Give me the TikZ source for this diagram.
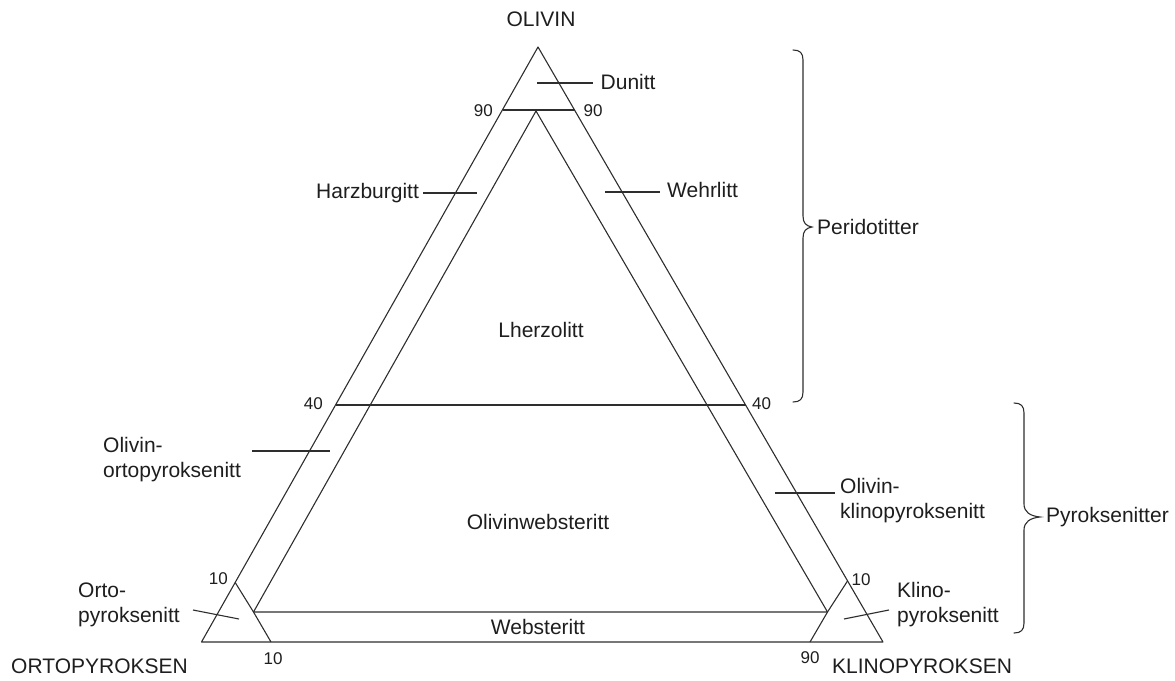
\documentclass[tikz,border=0pt]{standalone}
\usepackage{fontspec}
\setmainfont{Liberation Sans}
\definecolor{ink}{HTML}{1E1E1E}
\definecolor{rule}{HTML}{2E2E2E}
\begin{document}
\begin{tikzpicture}[x=1pt,y=-1pt,
  edge/.style={draw=rule, line width=1.1pt, line join=round},
  lead/.style={draw=rule, line width=1.1pt},
  brace/.style={draw=rule, line width=1.1pt, line cap=round},
  lbl/.style={font=\fontsize{21}{25}\selectfont, text=ink, inner sep=0pt, align=left},
  num/.style={font=\fontsize{17}{20}\selectfont, text=ink, inner sep=0pt},
]
\useasboundingbox (0,0) rectangle (1175,680);

% outer triangle
\coordinate (O) at (538,47);
\coordinate (A) at (201.5,642);
\coordinate (C) at (883,642);
% inner triangle
\coordinate (I) at (536,111);
\coordinate (IA) at (253.5,612);
\coordinate (IC) at (827.5,612);
% division lines on the outer sides
\coordinate (L90) at (502.5,110);
\coordinate (R90) at (574.5,110);
\coordinate (L40) at (335.5,405);
\coordinate (R40) at (745.5,405);
\coordinate (L10) at (235.2,582.5);
\coordinate (B10) at (271,642);
\coordinate (R10) at (847.5,581);
\coordinate (B90) at (810,642);

\draw[edge] (O) -- (A) -- (C) -- cycle;
\draw[edge] (IA) -- (I) -- (IC) -- cycle;
\draw[edge] (L90) -- (R90);
\draw[edge] (L40) -- (R40);
\draw[edge] (L10) -- (IA) -- (B10);
\draw[edge] (R10) -- (IC) -- (B90);

% corner names
\node[lbl, anchor=base] (olv) at (541,26) {OLIVIN};
\node[lbl, anchor=base west] (opx) at (11,673) {ORTOPYROKSEN};
\node[lbl, anchor=base west] (cpx) at (832,673) {KLINOPYROKSEN};

% scale numbers
\node[num, anchor=base east] (n90l) at (493,116) {90};
\node[num, anchor=base west] (n90r) at (583.5,116) {90};
\node[num, anchor=base east] (n40l) at (323,409) {40};
\node[num, anchor=base west] (n40r) at (752,409) {40};
\node[num, anchor=base east] (n10l) at (228,584) {10};
\node[num, anchor=base] (n10b) at (273,664) {10};
\node[num, anchor=base west] (n10r) at (851.5,585) {10};
\node[num, anchor=base] (n90b) at (810,663) {90};

% field names inside
\node[lbl, anchor=base] (lhz) at (541,337) {Lherzolitt};
\node[lbl, anchor=base] (owb) at (538,529) {Olivinwebsteritt};
\node[lbl, anchor=base] (wbs) at (538,634) {Websteritt};

% field names outside with leaders (two-line labels sit on their last baseline)
\node[lbl, anchor=base west] (dun) at (600.5,89) {Dunitt};
\coordinate (dunA) at (537,83);
\coordinate (dunB) at (593,83);
\draw[lead] (dunA) -- (dunB);

\node[lbl, anchor=base west] (hzb) at (316,198) {Harzburgitt};
\coordinate (hzbA) at (423,193);
\coordinate (hzbB) at (477,193);
\draw[lead] (hzbA) -- (hzbB);

\node[lbl, anchor=base west] (whr) at (667,197) {Wehrlitt};
\coordinate (whrA) at (605,192);
\coordinate (whrB) at (660,192);
\draw[lead] (whrA) -- (whrB);

\node[lbl, anchor=base west] (oopx) at (103,477) {Olivin-\\ortopyroksenitt};
\coordinate (oopxA) at (252,451);
\coordinate (oopxB) at (330,451);
\draw[lead] (oopxA) -- (oopxB);

\node[lbl, anchor=base west] (ocpx) at (840,518) {Olivin-\\klinopyroksenitt};
\coordinate (ocpxA) at (775,493);
\coordinate (ocpxB) at (835,493);
\draw[lead] (ocpxA) -- (ocpxB);

\node[lbl, anchor=base west] (opxt) at (78,622) {Orto-\\pyroksenitt};
\coordinate (opxtA) at (193,610);
\coordinate (opxtB) at (239,619);
\draw[lead] (opxtA) -- (opxtB);

\node[lbl, anchor=base west] (cpxt) at (897,622) {Klino-\\pyroksenitt};
\coordinate (cpxtA) at (844,619);
\coordinate (cpxtB) at (889,610);
\draw[lead] (cpxtA) -- (cpxtB);

% group braces
\node[lbl, anchor=west] (per) at (817,227) {Peridotitter};
\draw[brace] (793,50) .. controls (800,50) and (803,53) .. (803,60)
  -- (803,216) .. controls (803,223) and (806,226) .. (812,227)
  .. controls (806,228) and (803,231) .. (803,238)
  -- (803,392) .. controls (803,399) and (800,402) .. (793,402);

\node[lbl, anchor=west] (pyr) at (1046,517) {Pyroksenitter};
\draw[brace] (1014,403) .. controls (1021,403) and (1024,406) .. (1024,413)
  -- (1024,504) .. controls (1024,512) and (1030,516) .. (1040,517)
  .. controls (1030,518) and (1024,522) .. (1024,530)
  -- (1024,623) .. controls (1024,630) and (1021,633) .. (1014,633);
\end{tikzpicture}
\end{document}
